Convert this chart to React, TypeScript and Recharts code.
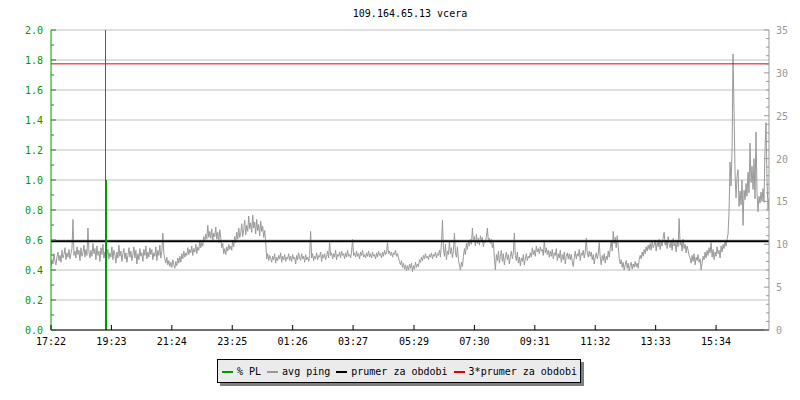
import { LineChart, Line, XAxis, YAxis, CartesianGrid, ReferenceLine } from "recharts";

// avg ping in ms, one sample every 2 minutes starting 17:22
const pingMs = [
  7.4, 8.2, 7.7, 8.9, 8.0, 7.6, 8.6, 9.1, 8.1, 8.7, 7.9, 9.3, 8.4, 8.8, 9.6, 8.2, 9.0, 8.5, 9.4, 8.3,
  8.9, 9.5, 12.9, 8.7, 9.2, 8.4, 9.7, 8.8, 9.3, 8.1, 9.6, 8.6, 9.0, 9.9, 8.5, 9.4, 8.7, 11.9, 9.1, 8.4,
  9.3, 8.6, 10.1, 8.9, 9.5, 8.2, 9.8, 8.7, 9.2, 8.0, 9.6, 8.8, 10.0, 8.4, 9.1, 7.9, 8.7, 9.4, 8.3, 9.0,
  8.5, 9.7, 8.2, 9.3, 8.8, 7.8, 9.1, 8.4, 9.9, 8.6, 9.2, 8.0, 8.9, 9.5, 8.3, 9.0, 7.9, 8.7, 9.6, 8.5,
  9.2, 8.1, 8.8, 9.7, 8.4, 9.3, 7.7, 8.9, 8.2, 9.5, 8.6, 9.0, 8.0, 9.4, 8.7, 9.8, 8.3, 9.1, 8.5, 9.6,
  8.8, 9.4, 8.2, 9.0, 8.6, 9.7, 8.1, 9.3, 8.7, 9.9, 8.4, 9.2, 11.3, 8.9, 8.3, 7.8, 8.5, 7.6, 8.1, 7.4,
  7.9, 7.3, 8.2, 7.6, 7.2, 8.0, 7.5, 8.4, 7.8, 8.6, 7.9, 8.9, 8.3, 9.2, 8.5, 9.0, 8.7, 9.6, 8.8, 9.4,
  9.0, 9.8, 8.7, 9.5, 9.1, 10.0, 8.9, 9.7, 9.3, 10.4, 9.6, 10.2, 9.8, 10.9, 10.3, 11.2, 10.6, 12.2, 10.8, 11.5,
  10.7, 11.8, 10.4, 11.3, 10.9, 12.0, 10.6, 11.4, 10.2, 11.7, 10.8, 9.6, 10.1, 8.9, 9.5, 8.8, 9.7, 9.2, 10.0, 9.4,
  9.8, 9.3, 10.5, 9.7, 10.9, 10.2, 11.4, 10.6, 11.9, 10.8, 11.3, 12.4, 10.9, 11.7, 12.8, 11.1, 12.2, 11.5, 13.3, 11.8,
  12.5, 11.4, 13.4, 11.9, 12.6, 11.2, 12.9, 11.6, 12.3, 11.0, 12.7, 11.5, 12.1, 10.8, 11.6, 10.3, 8.3, 8.9, 8.1, 8.7,
  8.4, 7.9, 8.6, 8.2, 8.9, 7.8, 8.5, 8.1, 8.7, 8.3, 9.0, 7.9, 8.6, 8.2, 8.8, 8.0, 8.5, 8.3, 8.9, 8.1,
  8.6, 8.0, 8.8, 8.3, 8.5, 7.7, 8.7, 8.2, 9.0, 8.4, 8.1, 8.9, 8.3, 8.6, 7.9, 8.8, 8.2, 8.5, 8.0, 8.7,
  11.5, 8.4, 8.9, 8.1, 8.6, 8.3, 9.0, 8.2, 8.7, 8.5, 9.1, 8.0, 8.8, 8.4, 8.9, 8.2, 8.6, 9.2, 8.4, 10.2,
  8.7, 9.0, 8.3, 8.9, 8.5, 9.3, 8.2, 8.8, 8.6, 9.1, 8.4, 9.2, 8.7, 8.9, 8.3, 9.0, 8.5, 9.3, 8.6, 8.8,
  8.4, 9.1, 10.6, 8.7, 9.0, 8.5, 9.2, 8.6, 8.9, 8.3, 9.1, 8.7, 9.3, 8.5, 8.8, 8.4, 9.0, 8.6, 9.2, 8.5,
  8.9, 8.4, 9.1, 8.6, 8.8, 8.3, 9.0, 8.5, 9.2, 8.7, 8.9, 8.4, 9.1, 8.6, 9.3, 8.8, 9.0, 10.2, 8.9, 9.2,
  8.7, 9.1, 8.5, 9.0, 8.8, 9.3, 8.6, 8.9, 8.4, 8.0, 7.6, 8.1, 7.3, 7.8, 7.1, 7.6, 6.9, 7.5, 7.0, 7.7,
  7.2, 7.8, 6.8, 7.5, 7.1, 7.9, 7.3, 7.7, 7.4, 8.2, 7.9, 8.5, 8.1, 8.7, 8.3, 8.9, 8.4, 8.6, 8.2, 8.8,
  8.5, 9.0, 8.3, 8.8, 8.6, 9.1, 8.4, 8.9, 8.7, 9.3, 8.5, 10.1, 12.8, 9.4, 8.6, 10.0, 8.2, 9.2, 8.8, 10.3,
  8.9, 9.6, 8.4, 9.3, 11.3, 9.0, 8.5, 9.7, 8.2, 7.6, 7.0, 7.9, 7.4, 8.6, 9.5, 8.8, 10.1, 9.4, 10.4, 9.8,
  10.6, 10.0, 11.9, 10.3, 10.9, 9.8, 11.2, 10.1, 10.7, 9.9, 11.0, 10.4, 10.8, 9.7, 10.5, 10.2, 10.9, 11.9, 10.3, 10.7,
  10.1, 10.6, 9.6, 10.2, 8.4, 7.0, 8.8, 8.1, 9.2, 7.8, 8.6, 9.3, 8.0, 8.9, 7.6, 8.5, 9.1, 8.2, 8.8, 7.7,
  8.6, 9.2, 8.3, 9.0, 11.3, 8.7, 8.1, 9.1, 7.8, 8.5, 7.5, 8.4, 8.0, 8.8, 7.6, 8.3, 8.9, 8.1, 8.6, 8.4,
  9.0, 8.5, 9.6, 8.8, 9.3, 8.6, 9.8, 9.1, 9.5, 8.9, 9.7, 9.2, 9.4, 8.7, 10.5, 9.0, 9.6, 8.8, 9.3, 8.5,
  9.2, 8.6, 9.4, 8.3, 9.0, 8.7, 9.5, 8.1, 8.9, 8.4, 9.3, 7.9, 8.8, 8.2, 9.1, 7.7, 8.6, 9.0, 8.3, 8.9,
  8.2, 8.8, 8.0, 7.4, 8.5, 9.2, 8.3, 8.9, 8.6, 9.4, 8.1, 9.0, 8.7, 9.3, 8.4, 9.1, 10.7, 9.0, 8.5, 9.2,
  8.6, 9.1, 8.2, 8.8, 7.7, 8.5, 9.0, 8.3, 8.9, 10.2, 8.4, 7.6, 8.7, 8.1, 8.9, 7.8, 8.6, 8.2, 9.2, 8.5,
  9.5, 10.4, 9.2, 11.5, 10.1, 10.8, 9.6, 11.0, 9.8, 8.4, 7.7, 8.2, 7.3, 7.9, 7.0, 7.6, 8.1, 7.2, 7.8, 6.9,
  7.5, 7.9, 7.1, 7.7, 7.3, 8.0, 7.4, 7.8, 7.2, 8.2, 8.7, 8.3, 9.1, 8.6, 9.4, 8.9, 9.7, 9.2, 9.9, 9.4,
  10.1, 9.3, 10.4, 9.6, 9.9, 10.5, 9.2, 10.2, 9.7, 10.6, 9.4, 10.3, 9.8, 10.8, 11.4, 9.9, 10.5, 9.5, 10.9, 10.0,
  9.6, 10.4, 9.3, 10.7, 9.8, 10.2, 9.1, 10.5, 9.7, 13.0, 9.9, 10.3, 9.2, 10.6, 9.5, 10.0, 9.0, 9.8, 9.3, 8.7,
  8.4, 7.8, 8.7, 8.0, 8.9, 7.6, 8.5, 8.1, 8.8, 7.9, 8.3, 7.0, 7.8, 8.6, 8.2, 9.1, 8.4, 9.3, 8.7, 9.6,
  9.0, 10.2, 8.5, 9.4, 8.2, 9.1, 8.6, 9.7, 8.9, 9.3, 8.4, 9.8, 9.1, 10.0, 9.5, 10.3, 9.8, 10.6, 11.2, 13.8,
  19.6, 16.8, 21.0, 32.2, 25.3, 18.2, 15.4, 17.9, 18.7, 14.4, 16.2, 14.6, 17.5, 12.2, 16.3, 15.2, 17.1, 15.6, 18.4, 16.0,
  21.8, 17.2, 19.1, 16.4, 20.0, 15.3, 23.1, 16.0, 13.8, 15.6, 14.8, 16.1, 15.0, 16.5, 14.9, 21.1, 24.2, 17.6, 14.0, 15.4,
];
const sampleStep = 2; // minutes

// packet loss (%) – one failed probe around 19:10
const plMinutes = [109.2, 109.2, 109.2, 111.2, 111.2];
const plValues = [0, 100, 1, 1, 0];

const prumer = 10.35; // average over period, ms

const timeTicks = [0, 121, 242, 363, 484, 605, 727, 848, 969, 1090, 1211, 1332];
const timeLabels = ["17:22", "19:23", "21:24", "23:25", "01:26", "03:27", "05:29", "07:30", "09:31", "11:32", "13:33", "15:34"];

const plTicks = [0, 0.1, 0.2, 0.3, 0.4, 0.5, 0.6, 0.7, 0.8, 0.9, 1.0, 1.1, 1.2, 1.3, 1.4, 1.5, 1.6, 1.7, 1.8, 1.9, 2.0];
const plMajor = [0, 0.2, 0.4, 0.6, 0.8, 1.0, 1.2, 1.4, 1.6, 1.8, 2.0];
const msTicks = [0, 1, 2, 3, 4, 5, 6, 7, 8, 9, 10, 11, 12, 13, 14, 15, 16, 17, 18, 19, 20, 21, 22, 23, 24, 25, 26, 27, 28, 29, 30, 31, 32, 33, 34, 35];

const pingData = pingMs.map((v, i) => ({ t: i * sampleStep, ping: v }));
const plData = plMinutes.map((t, i) => ({ t, pl: plValues[i] }));

const FONT = "'DejaVu Sans Mono', monospace";
const GREEN = "#009900";
const GRAY = "#999999";

function LeftTick(props: any) {
  const { x, y, payload } = props;
  const major = plMajor.some((m) => Math.abs(m - payload.value) < 1e-6);
  return (
    <g>
      <line x1={x} x2={x + (major ? 5 : 3)} y1={y} y2={y} stroke={GREEN} />
      {major && (
        <text x={x - 8} y={y + 4} textAnchor="end" fill={GREEN} fontSize={10} fontFamily={FONT}>
          {payload.value.toFixed(1)}
        </text>
      )}
    </g>
  );
}

function RightTick(props: any) {
  const { x, y, payload } = props;
  const major = payload.value % 5 === 0;
  return (
    <g>
      <line x1={x} x2={x - (major ? 5 : 3)} y1={y} y2={y} stroke={GRAY} />
      {major && (
        <text x={x + 7} y={y + 4} textAnchor="start" fill={GRAY} fontSize={10} fontFamily={FONT}>
          {payload.value}
        </text>
      )}
    </g>
  );
}

function TimeTick(props: any) {
  const { x, y, index } = props;
  return (
    <g>
      <line x1={x} x2={x} y1={y} y2={y - 5} stroke="#000" />
      <text x={x} y={y + 15} textAnchor="middle" fill="#000" fontSize={10} fontFamily={FONT}>
        {timeLabels[index]}
      </text>
    </g>
  );
}

const legendItems = [
  { label: "% PL", color: GREEN },
  { label: "avg ping", color: GRAY },
  { label: "prumer za obdobi", color: "#000" },
  { label: "3*prumer za obdobi", color: "#e00000" },
];

export default function App() {
  return (
    <div style={{ position: "absolute", left: 0, top: 0, width: 800, height: 400, background: "#fff" }}>
      <style>{"body{margin:0}"}</style>
      <LineChart width={800} height={400} data={pingData} margin={{ top: 30, right: 0, bottom: 0, left: 0 }}>
        <text x={410} y={17} textAnchor="middle" fontSize={10} fontFamily={FONT} fill="#000">
          109.164.65.13 vcera
        </text>
        <CartesianGrid yAxisId="left" vertical={false} horizontalValues={plMajor} stroke="#c0c0c0" />
        <XAxis
          dataKey="t"
          type="number"
          domain={[0, 1438]}
          allowDataOverflow
          ticks={timeTicks}
          interval={0}
          height={70}
          tickSize={0}
          tickMargin={0}
          tickLine={false}
          axisLine={{ stroke: "#000" }}
          tick={<TimeTick />}
        />
        <YAxis
          yAxisId="left"
          orientation="left"
          width={51}
          domain={[0, 2]}
          allowDataOverflow
          ticks={plTicks}
          interval={0}
          tickSize={0}
          tickMargin={0}
          tickLine={false}
          axisLine={{ stroke: GREEN }}
          tick={<LeftTick />}
        />
        <YAxis
          yAxisId="right"
          orientation="right"
          width={31}
          domain={[0, 35]}
          allowDataOverflow
          ticks={msTicks}
          interval={0}
          tickSize={0}
          tickMargin={0}
          tickLine={false}
          axisLine={{ stroke: GRAY }}
          tick={<RightTick />}
        />
        <Line
          yAxisId="right"
          dataKey="ping"
          stroke={GRAY}
          strokeWidth={1}
          dot={false}
          activeDot={false}
          type="linear"
          isAnimationActive={false}
        />
        <ReferenceLine yAxisId="right" y={prumer} stroke="#000" strokeWidth={2} />
        <ReferenceLine yAxisId="right" y={prumer * 3} stroke="#e00000" strokeWidth={1} />
        <Line
          yAxisId="left"
          data={plData}
          dataKey="pl"
          stroke={GREEN}
          strokeWidth={1}
          shapeRendering="crispEdges"
          dot={false}
          activeDot={false}
          type="linear"
          isAnimationActive={false}
        />
      </LineChart>
      <div
        style={{
          position: "absolute",
          left: 217,
          top: 359,
          width: 364,
          height: 24,
          boxSizing: "border-box",
          border: "1px solid #000",
          background: "#ebebeb",
          boxShadow: "3px 3px 0 #808080",
          display: "flex",
          alignItems: "center",
          paddingLeft: 4,
          whiteSpace: "nowrap",
          fontFamily: FONT,
          fontSize: 10,
          color: "#000",
        }}
      >
        {legendItems.map((it) => (
          <div key={it.label} style={{ display: "flex", alignItems: "center", marginRight: 6, flexShrink: 0 }}>
            <span style={{ display: "inline-block", width: 11, height: 2, background: it.color, marginRight: 4, marginTop: 2 }} />
            <span>{it.label}</span>
          </div>
        ))}
      </div>
    </div>
  );
}
